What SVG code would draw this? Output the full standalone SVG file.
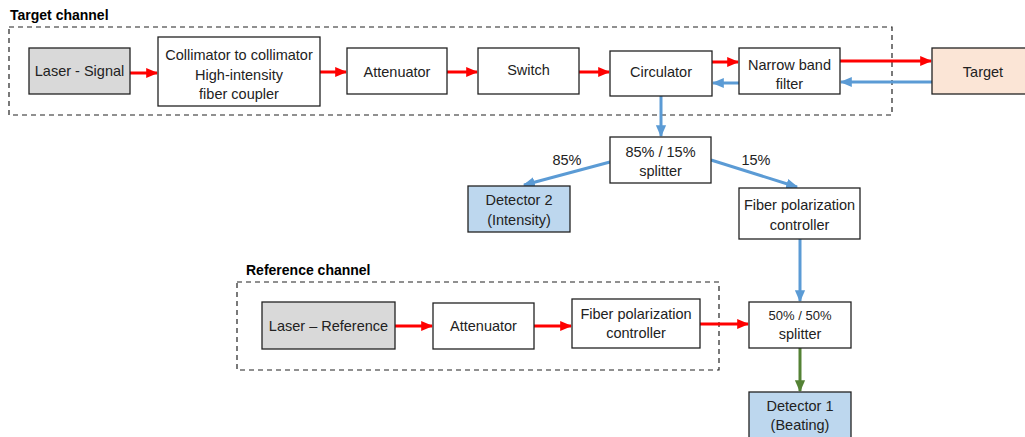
<svg xmlns="http://www.w3.org/2000/svg" width="1025" height="437" viewBox="0 0 1025 437">
<style>
text{font-family:"Liberation Sans",Arial,sans-serif;font-size:14.5px;fill:#222;text-anchor:middle}
.title{font-weight:bold;text-anchor:start;font-size:14px;fill:#000}
.box{fill:#fff;stroke:#222;stroke-width:1.3}
.laser{fill:#d9d9d9;stroke:#222;stroke-width:1.3}
.det{fill:#bdd7ee;stroke:#222;stroke-width:1.3}
.tgt{fill:#fbe5d6;stroke:#222;stroke-width:1.3}
.dash{fill:none;stroke:#222;stroke-width:1.2;stroke-dasharray:5,4}
.red{stroke:#ff0000;stroke-width:3;fill:none;marker-end:url(#ar)}
.blue{stroke:#5b9bd5;stroke-width:3;fill:none;marker-end:url(#ab)}
.green{stroke:#548235;stroke-width:3;fill:none;marker-end:url(#ag)}
</style>
<defs>
<marker id="ar" markerWidth="4" markerHeight="4" refX="3.6" refY="2" orient="auto" markerUnits="strokeWidth"><path d="M0,0.3 L4,2 L0,3.7 Z" fill="#ff0000"/></marker>
<marker id="ab" markerWidth="4" markerHeight="4" refX="3.6" refY="2" orient="auto" markerUnits="strokeWidth"><path d="M0,0.3 L4,2 L0,3.7 Z" fill="#5b9bd5"/></marker>
<marker id="ag" markerWidth="4" markerHeight="4" refX="3.6" refY="2" orient="auto" markerUnits="strokeWidth"><path d="M0,0.3 L4,2 L0,3.7 Z" fill="#548235"/></marker>
</defs>

<g id="groups">
<text class="title" x="10" y="20">Target channel</text>
<rect class="dash" x="9" y="27" width="883" height="88"/>
<text class="title" x="246" y="275">Reference channel</text>
<rect class="dash" x="237" y="282" width="482" height="88"/>
</g>

<g id="connectors">
<line class="red" x1="130" y1="73" x2="157" y2="73"/>
<line class="red" x1="320" y1="72" x2="346" y2="72"/>
<line class="red" x1="447" y1="72" x2="477" y2="72"/>
<line class="red" x1="579" y1="72" x2="609" y2="72"/>
<line class="red" x1="712" y1="62" x2="738" y2="62"/>
<line class="blue" x1="739" y1="83" x2="713" y2="83"/>
<line class="red" x1="840" y1="61" x2="931" y2="61"/>
<line class="blue" x1="932" y1="82" x2="841" y2="82"/>
<line class="blue" x1="661" y1="96" x2="661" y2="136"/>
<line class="blue" x1="610" y1="162" x2="524" y2="185"/>
<line class="blue" x1="711" y1="160" x2="797" y2="187"/>
<line class="blue" x1="800" y1="239" x2="800" y2="301"/>
<line class="red" x1="395" y1="326" x2="432" y2="326"/>
<line class="red" x1="534" y1="326" x2="571" y2="326"/>
<line class="red" x1="700" y1="324" x2="748" y2="324"/>
<line class="green" x1="800" y1="348" x2="800" y2="391"/>
<text x="567" y="165">85%</text>
<text x="756" y="165">15%</text>
</g>

<g id="laser-signal"><rect class="laser" x="29" y="48" width="101" height="46"/><text x="79.5" y="76">Laser - Signal</text></g>
<g id="collimator"><rect class="box" x="158" y="37" width="162" height="69"/><text x="239" y="60">Collimator to collimator</text><text x="239" y="80">High-intensity</text><text x="239" y="99">fiber coupler</text></g>
<g id="attenuator1"><rect class="box" x="347" y="48" width="100" height="46"/><text x="397" y="77">Attenuator</text></g>
<g id="switch"><rect class="box" x="478" y="48" width="101" height="46"/><text x="528.5" y="75">Switch</text></g>
<g id="circulator"><rect class="box" x="610" y="51" width="102" height="45"/><text x="661" y="77">Circulator</text></g>
<g id="nbf"><rect class="box" x="739" y="48" width="101" height="46"/><text x="789.5" y="70">Narrow band</text><text x="789.5" y="89">filter</text></g>
<g id="target"><rect class="tgt" x="932" y="48" width="100" height="46"/><text x="983" y="77">Target</text></g>
<g id="splitter1"><rect class="box" x="610" y="137" width="101" height="46"/><text x="660.5" y="157">85% / 15%</text><text x="660.5" y="176">splitter</text></g>
<g id="detector2"><rect class="det" x="468" y="186" width="102" height="46"/><text x="519" y="205">Detector 2</text><text x="519" y="225">(Intensity)</text></g>
<g id="fpc1"><rect class="box" x="739" y="188" width="121" height="51"/><text x="799.5" y="210">Fiber polarization</text><text x="799.5" y="230">controller</text></g>
<g id="laser-ref"><rect class="laser" x="262" y="302" width="133" height="47"/><text x="328.5" y="331">Laser – Reference</text></g>
<g id="attenuator2"><rect class="box" x="433" y="303" width="101" height="46"/><text x="483.5" y="331">Attenuator</text></g>
<g id="fpc2"><rect class="box" x="572" y="299" width="128" height="49"/><text x="636" y="319">Fiber polarization</text><text x="636" y="338">controller</text></g>
<g id="splitter2"><rect class="box" x="749" y="302" width="102" height="46"/><text x="800" y="320" style="font-size:13px">50% / 50%</text><text x="800" y="339">splitter</text></g>
<g id="detector1"><rect class="det" x="749" y="392" width="102" height="50"/><text x="800" y="411">Detector 1</text><text x="800" y="430">(Beating)</text></g>
</svg>
